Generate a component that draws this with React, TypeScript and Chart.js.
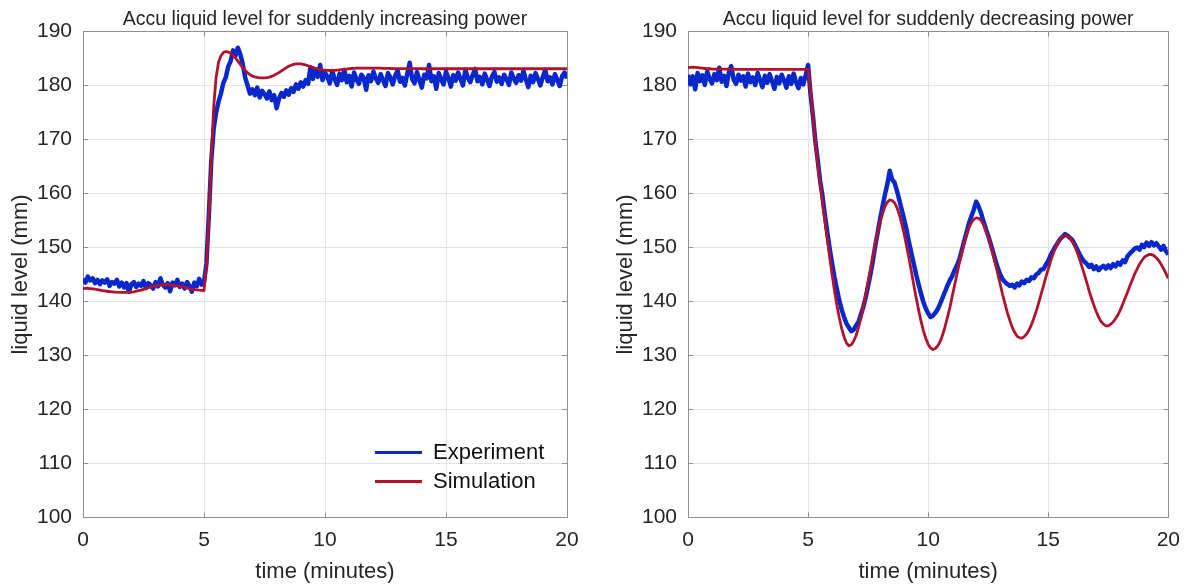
import React, { useEffect, useRef } from "react";
import { Chart, registerables } from "chart.js";

Chart.register(...registerables);

// ---------------- data ----------------
const SAMPLE_STEP_MIN = 0.1; // sampling interval of all series (minutes)
const X_MIN = 0;
const X_MAX = 20;
const X_STEP = 5;
const Y_MIN = 100;
const Y_MAX = 190;
const Y_STEP = 10;

const TITLE_LEFT = "Accu liquid level for suddenly increasing power";
const TITLE_RIGHT = "Accu liquid level for suddenly decreasing power";
const X_LABEL = "time (minutes)";
const Y_LABEL = "liquid level (mm)";
const SERIES_NAMES = ["Experiment", "Simulation"];

// left panel: sudden power increase
const LEFT_EXP = [
  144.2, 143.5, 144.6, 143.9, 144.3, 143.4, 144.0, 143.2, 143.9, 143.5,
  144.1, 142.9, 143.6, 143.3, 144.0, 142.8, 143.5, 142.6, 143.4, 141.8,
  143.2, 143.6, 142.7, 143.3, 142.9, 143.8, 142.5, 143.4, 143.0, 142.4,
  143.6, 142.8, 144.3, 143.1, 142.6, 143.4, 141.9, 143.5, 143.0, 144.0,
  142.7, 143.3, 142.4, 143.6, 142.9, 141.8, 143.5, 142.8, 144.2, 143.1,
  143.6, 147.0, 156.0, 166.0, 172.0, 175.0, 177.0, 178.5, 180.5, 181.5,
  183.5, 184.5, 186.5, 185.5, 187.0, 185.8, 184.0, 181.5, 180.0, 178.5,
  179.3, 178.2, 179.6, 177.8, 179.0, 178.4, 177.6, 178.9, 177.3, 178.2,
  175.8, 177.6, 178.6, 177.9, 179.1, 178.3, 179.5, 178.8, 180.2, 179.4,
  180.6, 179.8, 181.0, 180.3, 183.4, 181.2, 183.0, 181.6, 183.8, 181.0,
  182.4, 181.6, 180.4, 182.7, 181.2, 180.1, 182.2, 181.0, 182.9, 180.6,
  181.8, 179.8, 182.4, 181.1, 180.3, 182.0, 181.4, 179.2, 181.9, 180.8,
  182.6, 181.3, 180.5, 182.1, 181.0, 179.9, 182.3, 181.5, 180.2, 181.8,
  182.8, 180.7, 181.4, 180.0, 182.2, 184.2, 181.2, 180.4, 182.5, 181.0,
  179.6, 182.0, 181.3, 183.8, 180.8, 181.7, 179.4, 182.3, 181.1, 180.2,
  182.6, 181.4, 179.8, 181.9, 180.9, 182.4, 181.2, 180.0, 182.9, 181.5,
  180.6, 181.9, 183.1, 180.8, 181.6, 180.2, 182.2, 181.0, 179.9, 181.7,
  182.5, 180.7, 181.5, 180.3, 182.0, 181.2, 180.1, 182.4, 181.3, 180.5,
  181.9, 180.9, 182.7, 181.1, 179.7, 181.8, 180.6, 182.3, 181.2, 180.0,
  181.6, 182.9, 180.8, 181.5, 180.2, 182.1, 181.0, 179.9, 181.8, 182.4,
  181.3,
];

const LEFT_SIM = [
  142.4, 142.45, 142.45, 142.4, 142.35, 142.3, 142.2, 142.1, 142.0, 141.95,
  141.9, 141.85, 141.8, 141.75, 141.72, 141.7, 141.7, 141.7, 141.7, 141.72,
  141.75, 141.8, 141.9, 142.0, 142.1, 142.25, 142.4, 142.55, 142.7, 142.85,
  142.95, 143.0, 143.05, 143.1, 143.1, 143.1, 143.05, 143.0, 142.95, 142.9,
  142.8, 142.7, 142.6, 142.5, 142.4, 142.3, 142.2, 142.15, 142.1, 142.05,
  142.0, 146.5, 155.5, 166.5, 176.0, 181.5, 184.3, 185.5, 186.1, 186.3,
  186.2, 186.0, 185.6, 185.1, 184.5, 183.9, 183.3, 182.8, 182.35, 182.0,
  181.75, 181.6, 181.5, 181.42, 181.4, 181.4, 181.45, 181.55, 181.7, 181.9,
  182.15, 182.4, 182.7, 183.0, 183.3, 183.55, 183.75, 183.9, 184.0, 184.0,
  184.0, 183.9, 183.8, 183.65, 183.5, 183.35, 183.2, 183.1, 183.0, 182.9,
  182.85, 182.8, 182.78, 182.78, 182.8, 182.85, 182.9, 182.95, 183.0, 183.05,
  183.1, 183.15, 183.18, 183.2, 183.22, 183.22, 183.22, 183.22, 183.22, 183.22,
  183.22, 183.22, 183.2, 183.2, 183.18, 183.18, 183.16, 183.15, 183.14, 183.13,
  183.12, 183.12, 183.12, 183.12, 183.12, 183.11, 183.11, 183.11, 183.11, 183.11,
  183.1, 183.1, 183.1, 183.1, 183.1, 183.1, 183.1, 183.1, 183.1, 183.1,
  183.1, 183.1, 183.1, 183.1, 183.1, 183.1, 183.1, 183.1, 183.1, 183.1,
  183.1, 183.1, 183.1, 183.1, 183.1, 183.1, 183.1, 183.1, 183.1, 183.1,
  183.1, 183.1, 183.1, 183.1, 183.1, 183.1, 183.1, 183.1, 183.1, 183.1,
  183.1, 183.1, 183.1, 183.1, 183.1, 183.1, 183.1, 183.1, 183.1, 183.1,
  183.1, 183.1, 183.1, 183.1, 183.1, 183.1, 183.1, 183.1, 183.1, 183.1,
  183.1,
];

// right panel: sudden power decrease
const RIGHT_EXP = [
  182.0, 180.2, 181.7, 179.3, 182.3, 180.8, 181.9, 180.1, 182.6, 181.2,
  180.4, 182.1, 181.0, 183.3, 180.7, 181.8, 179.9, 182.4, 183.6, 181.1,
  180.3, 182.0, 180.9, 181.7, 179.8, 182.2, 180.6, 181.5, 180.1, 182.3,
  181.0, 179.7, 181.8, 180.5, 182.1, 180.8, 179.4, 181.6, 180.4, 182.0,
  180.9, 179.6, 181.7, 180.3, 182.2, 180.6, 179.5, 181.4, 180.2, 181.9,
  183.8, 178.5, 174.5, 169.8, 166.2, 162.4, 159.5, 156.0, 152.8, 149.8,
  147.0, 144.5, 142.3, 140.2, 138.5, 137.1, 135.9, 135.2, 134.5, 134.8,
  135.6, 136.2, 137.6, 139.0, 140.8, 142.9, 145.1, 147.6, 150.4, 152.8,
  155.3, 157.6, 159.8, 161.7, 164.2, 162.6, 162.0, 160.5, 158.8, 157.0,
  155.2, 153.3, 151.0, 149.0, 147.0, 145.0, 143.2, 141.5, 139.9, 138.7,
  137.8, 137.1, 137.4, 137.9, 138.6, 139.6, 140.7, 141.8, 142.9, 143.9,
  144.7, 145.8, 146.7, 147.8, 149.5, 151.2, 152.8, 154.5, 155.8, 157.0,
  158.5, 157.6, 156.4, 154.9, 153.5, 152.2, 150.7, 149.2, 147.6, 146.2,
  145.0, 144.1, 143.6, 143.2, 142.9, 143.1, 142.6, 143.3, 143.0, 143.7,
  143.4, 144.0, 143.8, 144.5, 144.3, 145.0, 145.3, 145.9, 146.0, 146.8,
  147.5, 148.6, 149.4, 150.2, 150.9, 151.6, 152.0, 152.5, 152.2, 151.8,
  151.4, 150.6, 149.7, 148.8, 148.0, 147.4, 147.0, 146.4, 146.8, 146.0,
  146.5, 145.8, 146.3, 146.6, 146.1, 146.7, 146.2, 146.9, 146.5, 147.2,
  146.8, 147.6, 147.3, 148.4, 148.9, 149.3, 149.8, 150.0, 149.6, 150.5,
  150.1, 150.9, 150.3, 151.0, 150.4, 150.8, 150.2, 149.6, 150.3, 149.3,
  148.7,
];

const RIGHT_SIM = [
  183.3, 183.35, 183.4, 183.35, 183.3, 183.25, 183.2, 183.15, 183.1, 183.1,
  183.05, 183.05, 183.05, 183.05, 183.05, 183.05, 183.05, 183.05, 183.05, 183.05,
  183.0, 183.0, 183.0, 183.0, 183.0, 183.0, 183.0, 183.0, 183.0, 183.0,
  183.0, 183.0, 183.0, 183.0, 183.0, 183.0, 183.0, 183.0, 183.0, 183.0,
  183.0, 183.0, 183.0, 183.0, 183.0, 183.0, 183.0, 183.0, 183.0, 183.0,
  183.0, 179.0, 174.5, 169.5, 165.5, 162.0, 158.5, 155.0, 151.5, 148.2,
  145.0, 142.0, 139.3, 137.0, 135.0, 133.4, 132.3, 131.8, 132.0, 132.7,
  133.7, 135.2, 136.9, 139.0, 141.2, 143.6, 146.0, 148.4, 150.7, 152.9,
  154.8, 156.3, 157.6, 158.4, 158.8, 158.7, 158.3, 157.4, 156.1, 154.4,
  152.5, 150.3, 148.0, 145.6, 143.1, 140.7, 138.5, 136.4, 134.6, 133.2,
  132.1, 131.4, 131.1, 131.3, 131.8, 132.6, 133.8, 135.3, 137.0, 138.8,
  140.9, 143.0, 145.1, 147.2, 149.1, 150.9, 152.4, 153.7, 154.6, 155.2,
  155.5, 155.4, 155.0, 154.3, 153.2, 152.0, 150.5, 148.8, 147.0, 145.1,
  143.2, 141.3, 139.6, 137.9, 136.5, 135.2, 134.3, 133.6, 133.3, 133.2,
  133.5, 134.0, 134.7, 135.7, 136.9, 138.2, 139.7, 141.3, 142.9, 144.5,
  146.0, 147.5, 148.8, 149.9, 150.9, 151.6, 152.0, 152.2, 152.1, 151.8,
  151.1, 150.3, 149.2, 147.9, 146.5, 145.1, 143.6, 142.0, 140.6, 139.3,
  138.1, 137.1, 136.3, 135.8, 135.5, 135.5, 135.8, 136.2, 136.8, 137.5,
  138.4, 139.5, 140.6, 141.7, 142.9, 144.0, 145.1, 146.0, 146.9, 147.6,
  148.2, 148.5, 148.7, 148.7, 148.5, 148.1, 147.6, 146.9, 146.1, 145.2,
  144.3,
];

// ---------------- styles ----------------
const FONT = "'Liberation Sans', Arial, Helvetica, sans-serif";
const BLUE = "#0828cc";
const RED = "#b3122d";
const TEXT = "#262626";
const AXIS = "#8f8f8f";
const GRID = "#e4e4e4";
const CANVAS_H = 585;
const AREA_LEFT = 83;
const AREA_RIGHT = 567;

function toPoints(values: number[]) {
  return values.map((v, i) => ({ x: Math.round(i * SAMPLE_STEP_MIN * 10) / 10, y: v }));
}

const legendPlacer = {
  id: "legendPlacer",
  afterLayout(chart: any) {
    const lg = chart.legend;
    if (!lg || !chart.options.plugins.legend.display) return;
    const ca = chart.chartArea;
    lg.left = ca.left + 285;
    lg.right = ca.right;
    lg.width = lg.right - lg.left;
    lg.top = ca.top + 403;
    lg.bottom = ca.bottom;
    lg.height = lg.bottom - lg.top;
  },
};

function makeScales() {
  const border = { display: true, color: AXIS, width: 1 };
  const tickFont = { family: FONT, size: 21 };
  const titleFont = { family: FONT, size: 22 };
  return {
    x: {
      type: "linear",
      position: "bottom",
      min: X_MIN,
      max: X_MAX,
      ticks: { stepSize: X_STEP, font: tickFont, color: TEXT, padding: 15, maxRotation: 0, autoSkip: false },
      grid: { color: GRID, lineWidth: 1, tickLength: -5, tickColor: AXIS },
      border,
      title: { display: true, text: X_LABEL, font: titleFont, color: TEXT, padding: { top: 0, bottom: 0 } },
      afterFit: (s: any) => { s.height = 67.5; },
    },
    x2: {
      type: "linear",
      position: "top",
      min: X_MIN,
      max: X_MAX,
      ticks: { display: false, stepSize: X_STEP },
      grid: { drawOnChartArea: false, tickLength: -5, tickColor: AXIS },
      border,
      afterFit: (s: any) => { s.height = 0; },
    },
    y: {
      type: "linear",
      position: "left",
      min: Y_MIN,
      max: Y_MAX,
      ticks: { stepSize: Y_STEP, font: tickFont, color: TEXT, padding: 16 },
      grid: { color: GRID, lineWidth: 1, tickLength: -5, tickColor: AXIS },
      border,
      title: { display: true, text: Y_LABEL, font: titleFont, color: TEXT, padding: { top: 8, bottom: 0 } },
      afterFit: (s: any) => { s.width = AREA_LEFT; },
    },
    y2: {
      type: "linear",
      position: "right",
      min: Y_MIN,
      max: Y_MAX,
      ticks: { display: false, stepSize: Y_STEP },
      grid: { drawOnChartArea: false, tickLength: -5, tickColor: AXIS },
      border,
      afterFit: (s: any) => { s.width = 0; },
    },
  };
}

type PanelProps = {
  title: string;
  exp: number[];
  sim: number[];
  showLegend: boolean;
  left: number;
  width: number;
};

function Panel({ title, exp, sim, showLegend, left, width }: PanelProps) {
  const ref = useRef<HTMLCanvasElement | null>(null);

  useEffect(() => {
    if (!ref.current) return;
    const chart = new Chart(ref.current, {
      type: "line",
      data: {
        datasets: [
          {
            label: SERIES_NAMES[0],
            data: toPoints(exp),
            borderColor: BLUE,
            backgroundColor: BLUE,
            borderWidth: 4.5,
            borderJoinStyle: "round",
            pointRadius: 0,
            tension: 0,
            xAxisID: "x",
            yAxisID: "y",
            order: 2,
          },
          {
            label: SERIES_NAMES[1],
            data: toPoints(sim),
            borderColor: RED,
            backgroundColor: RED,
            borderWidth: 2.8,
            borderJoinStyle: "round",
            pointRadius: 0,
            tension: 0,
            xAxisID: "x",
            yAxisID: "y",
            order: 1,
          },
        ],
      },
      options: {
        animation: false,
        responsive: false,
        devicePixelRatio: 1,
        events: [],
        layout: { padding: { left: 0, right: width - AREA_RIGHT, top: 0, bottom: 0 } },
        scales: makeScales() as any,
        plugins: {
          tooltip: { enabled: false },
          title: {
            display: true,
            text: title,
            fullSize: false,
            color: TEXT,
            font: { family: FONT, size: 19.5, weight: "normal" },
            padding: { top: 8.1, bottom: 0 },
          },
          legend: {
            display: showLegend,
            position: "chartArea",
            align: "start",
            labels: {
              font: { family: FONT, size: 22 },
              color: "#111111",
              boxWidth: 47,
              boxHeight: 3,
              padding: 7,
              sort: (a: any, b: any) => a.datasetIndex - b.datasetIndex,
              generateLabels: (c: any) =>
                (Chart.defaults.plugins.legend.labels.generateLabels as any)(c).map((l: any) => ({
                  ...l,
                  lineWidth: 0,
                  fillStyle: l.strokeStyle,
                })),
            },
          },
        },
      } as any,
      plugins: [legendPlacer],
    });
    return () => chart.destroy();
  }, [title, exp, sim, showLegend, left, width]);

  return (
    <canvas
      ref={ref}
      width={width}
      height={CANVAS_H}
      style={{ position: "absolute", left, top: 0, width, height: CANVAS_H, display: "block" }}
    />
  );
}

export default function App() {
  return (
    <div
      style={{
        position: "absolute",
        left: 0,
        top: 0,
        width: 1195,
        height: CANVAS_H,
        overflow: "hidden",
        background: "#ffffff",
      }}
    >
      <Panel title={TITLE_LEFT} exp={LEFT_EXP} sim={LEFT_SIM} showLegend={true} left={0} width={597} />
      <Panel title={TITLE_RIGHT} exp={RIGHT_EXP} sim={RIGHT_SIM} showLegend={false} left={605} width={590} />
    </div>
  );
}
